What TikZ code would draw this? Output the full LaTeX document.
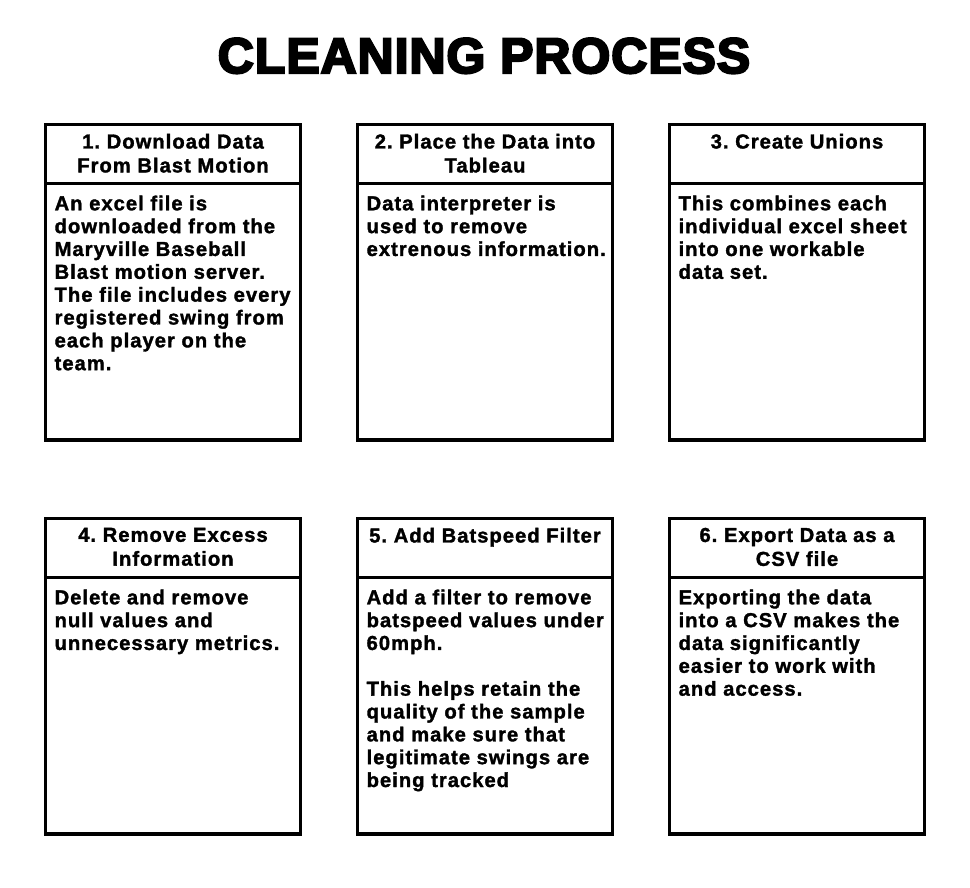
\documentclass[tikz,border=0pt]{standalone}
\usepackage{fontspec}
\newfontfamily\stepfont{Liberation Sans}[BoldFeatures={FakeBold=1.6}, LetterSpace=5]
\newfontfamily\titlefont{Liberation Sans}[BoldFeatures={FakeBold=4.5}, LetterSpace=2]
\usetikzlibrary{positioning}
\frenchspacing

\tikzset{
  headbox/.style={draw, line width=0.07cm, rectangle, outer sep=0pt, inner sep=0pt,
    minimum width=5.11cm, minimum height=1.18cm},
  bodybox/.style={draw, line width=0.07cm, rectangle, outer sep=0pt, inner sep=0pt,
    minimum width=5.11cm, minimum height=5.13cm},
  headtext/.style={anchor=north, inner sep=0pt, align=center,
    font=\stepfont\bfseries\fontsize{11.5}{13.6}\selectfont},
  bodytext/.style={anchor=north west, inner sep=0pt, align=left,
    font=\stepfont\bfseries\fontsize{11.5}{13}\selectfont},
}

\begin{document}
\begin{tikzpicture}[x=0.02cm, y=-0.02cm]
	\useasboundingbox (0,0) rectangle (970,888);
	\node[anchor=base, inner sep=0pt, font=\titlefont\bfseries\fontsize{28.4}{30}\selectfont]
		(title) at (484,73) {CLEANING PROCESS};

	%% step 1
	\node[headbox] (h1) at (173,154) {};
	\node[bodybox, below=0pt of h1] (b1) {};
	\node[headtext] (t1) at ([yshift=-0.18cm]h1.north) {1. Download Data\\From Blast Motion};
	\node[bodytext] (s1) at ([xshift=0.18cm, yshift=-0.236cm]b1.north west)
		{An excel file is\\downloaded from the\\Maryville Baseball\\Blast motion server.\\The file includes every\\registered swing from\\each player on the\\team.};

	%% step 2
	\node[headbox] (h2) at (485,154) {};
	\node[bodybox, below=0pt of h2] (b2) {};
	\node[headtext] (t2) at ([yshift=-0.18cm]h2.north) {2. Place the Data into\\Tableau};
	\node[bodytext] (s2) at ([xshift=0.18cm, yshift=-0.236cm]b2.north west)
		{Data interpreter is\\used to remove\\extrenous information.};

	%% step 3
	\node[headbox] (h3) at (797,154) {};
	\node[bodybox, below=0pt of h3] (b3) {};
	\node[headtext] (t3) at ([yshift=-0.18cm]h3.north) {3. Create Unions};
	\node[bodytext] (s3) at ([xshift=0.18cm, yshift=-0.236cm]b3.north west)
		{This combines each\\individual excel sheet\\into one workable\\data set.};

	%% step 4
	\node[headbox] (h4) at (173,548) {};
	\node[bodybox, below=0pt of h4] (b4) {};
	\node[headtext] (t4) at ([yshift=-0.18cm]h4.north) {4. Remove Excess\\Information};
	\node[bodytext] (s4) at ([xshift=0.18cm, yshift=-0.236cm]b4.north west)
		{Delete and remove\\null values and\\unnecessary metrics.};

	%% step 5
	\node[headbox] (h5) at (485,548) {};
	\node[bodybox, below=0pt of h5] (b5) {};
	\node[headtext] (t5) at ([yshift=-0.18cm]h5.north) {5. Add Batspeed Filter};
	\node[bodytext] (s5) at ([xshift=0.18cm, yshift=-0.236cm]b5.north west)
		{Add a filter to remove\\batspeed values under\\60mph.\\[13pt]This helps retain the\\quality of the sample\\and make sure that\\legitimate swings are\\being tracked};

	%% step 6
	\node[headbox] (h6) at (797,548) {};
	\node[bodybox, below=0pt of h6] (b6) {};
	\node[headtext] (t6) at ([yshift=-0.18cm]h6.north) {6. Export Data as a\\CSV file};
	\node[bodytext] (s6) at ([xshift=0.18cm, yshift=-0.236cm]b6.north west)
		{Exporting the data\\into a CSV makes the\\data significantly\\easier to work with\\and access.};
\end{tikzpicture}
\end{document}
